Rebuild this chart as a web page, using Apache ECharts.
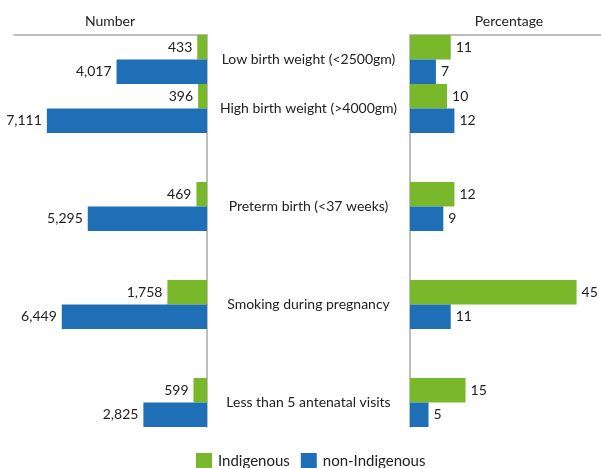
<!DOCTYPE html>
<html>
<head>
<meta charset="utf-8">
<script src="https://cdn.jsdelivr.net/npm/echarts@6/dist/echarts.min.js"></script>
<style>
html,body{margin:0;padding:0;background:#fff;}
#chart{width:601px;height:468px;}
</style>
</head>
<body>
<div id="chart"></div>
<script>
// Categories (empty strings are spacer rows in the original layout)
const categories = [
  'Low birth weight (<2500gm)',
  'High birth weight (>4000gm)',
  '',
  'Preterm birth (<37 weeks)',
  '',
  'Smoking during pregnancy',
  '',
  'Less than 5 antenatal visits'
];
const indigenousNumber    = [433, 396, null, 469, null, 1758, null, 599];
const nonIndigenousNumber = [4017, 7111, null, 5295, null, 6449, null, 2825];
const indigenousPct       = [11, 10, null, 12, null, 45, null, 15];
const nonIndigenousPct    = [7, 12, null, 9, null, 11, null, 5];
const seriesNames = ['Indigenous', 'non-Indigenous'];
const panelTitles = ['Number', 'Percentage'];

const GREEN = '#79b82b';
const BLUE = '#1e6fb5';
const AXIS = '#a8a8a8';
const FONT = 'Lato';
const TXT = '#222';

const chart = echarts.init(document.getElementById('chart'), null, {renderer: 'canvas'});

const lbl = (pos) => ({
  show: true, position: pos, distance: 5,
  fontFamily: FONT, fontSize: 14, color: TXT,
  formatter: p => p.value == null ? '' : Number(p.value).toLocaleString('en-US')
});

const option = {
  animation: false,
  backgroundColor: '#fff',
  textStyle: {fontFamily: FONT},
  graphic: [
    {type: 'text', x: 110, y: 21, style: {text: panelTitles[0], textAlign: 'center', textVerticalAlign: 'middle', font: '14px Lato', fill: TXT}},
    {type: 'text', x: 509, y: 21, style: {text: panelTitles[1], textAlign: 'center', textVerticalAlign: 'middle', font: '14px Lato', fill: TXT}}
  ],
  legend: {
    data: seriesNames,
    left: 196, top: 453,
    icon: 'rect', itemWidth: 16, itemHeight: 16, itemGap: 11,
    textStyle: {fontFamily: FONT, fontSize: 15, color: TXT, padding: [5, 0, 0, 1]},
    padding: 0
  },
  grid: [
    {left: 14, width: 193, top: 35, height: 392, containLabel: false},
    {left: 410, right: 0, top: 35, height: 392, containLabel: false}
  ],
  xAxis: [
    {type: 'value', gridIndex: 0, inverse: true, min: 0, max: 8570, position: 'top',
     axisLine: {show: true, lineStyle: {color: AXIS, width: 1.5}}, axisTick: {show: false},
     axisLabel: {show: false}, splitLine: {show: false}},
    {type: 'value', gridIndex: 1, min: 0, max: 51.6, position: 'top',
     axisLine: {show: true, lineStyle: {color: AXIS, width: 1.5}}, axisTick: {show: false},
     axisLabel: {show: false}, splitLine: {show: false}}
  ],
  yAxis: [
    {type: 'category', gridIndex: 0, data: categories, inverse: true, position: 'right',
     axisLine: {show: true, lineStyle: {color: AXIS, width: 1.5}}, axisTick: {show: false},
     axisLabel: {show: false}},
    {type: 'category', gridIndex: 1, data: categories, inverse: true, position: 'left',
     axisLine: {show: true, lineStyle: {color: AXIS, width: 1.5}}, axisTick: {show: false},
     axisLabel: {show: true, align: 'center', margin: 101.5, fontFamily: FONT, fontSize: 14, color: TXT,
       verticalAlign: 'middle', padding: [0, 0, 4, 0]}}
  ],
  series: [
    {name: seriesNames[0], type: 'bar', xAxisIndex: 0, yAxisIndex: 0, data: indigenousNumber,
     itemStyle: {color: GREEN}, barGap: '0%', barCategoryGap: '0%', label: lbl('left')},
    {name: seriesNames[1], type: 'bar', xAxisIndex: 0, yAxisIndex: 0, data: nonIndigenousNumber,
     itemStyle: {color: BLUE}, barGap: '0%', barCategoryGap: '0%', label: lbl('left')},
    {name: seriesNames[0], type: 'bar', xAxisIndex: 1, yAxisIndex: 1, data: indigenousPct,
     itemStyle: {color: GREEN}, barGap: '0%', barCategoryGap: '0%', label: lbl('right')},
    {name: seriesNames[1], type: 'bar', xAxisIndex: 1, yAxisIndex: 1, data: nonIndigenousPct,
     itemStyle: {color: BLUE}, barGap: '0%', barCategoryGap: '0%', label: lbl('right')}
  ]
};
chart.setOption(option);
</script>
</body>
</html>
